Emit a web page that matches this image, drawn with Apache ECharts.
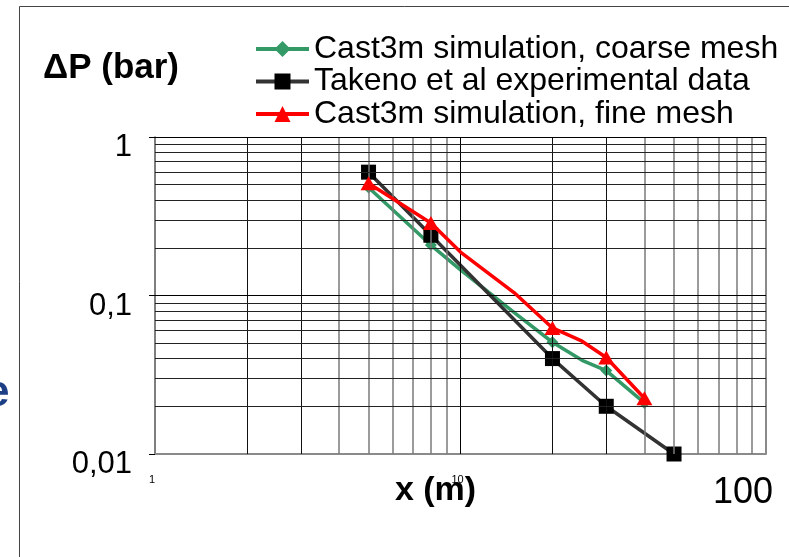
<!DOCTYPE html>
<html>
<head>
<meta charset="utf-8">
<script src="https://cdn.jsdelivr.net/npm/echarts@6/dist/echarts.min.js"></script>
<style>html,body{margin:0;padding:0;background:#fff}#c{width:789px;height:557px}</style>
</head>
<body>
<div id="c"></div>
<script>
const seriesNames = ['Cast3m simulation, coarse mesh', 'Takeno et al experimental data', 'Cast3m simulation, fine mesh'];
const coarseX = [5, 8, 10, 15, 20, 25, 30, 40];
const coarseY = [0.48, 0.208, 0.145, 0.078, 0.0507, 0.039, 0.0336, 0.021];
const takenoX = [5, 8, 20, 30, 50];
const takenoY = [0.6, 0.24, 0.04, 0.02, 0.01];
const fineX = [5, 8, 10, 15, 20, 25, 30, 40];
const fineY = [0.51, 0.287, 0.188, 0.104, 0.0624, 0.0515, 0.0406, 0.0225];
const simMarkedX = [5, 8, 20, 30, 40];
const xTickValues = [1, 10, 100];
const yTickValues = [0.01, 0.1, 1];
const yTickLabels = ['0,01', '0,1', '1'];
const xMinorGrid = [2, 3, 4, 5, 6, 7, 8, 9, 20, 30, 40, 50, 60, 70, 80, 90];
const xMajorGrid = [10];
const yMinorGrid = [0.02, 0.03, 0.04, 0.05, 0.06, 0.07, 0.08, 0.09, 0.2, 0.3, 0.4, 0.5, 0.6, 0.7, 0.8, 0.9];
const yMajorGrid = [0.1, 1];

const FONT = 'Liberation Sans, Arial, sans-serif';
const zip = (xs, ys) => xs.map((x, i) => [x, ys[i]]);

const gridLines = [];
xMinorGrid.forEach(v => {
  const dark = (v === 2 || v === 3 || v === 20 || v === 30);
  gridLines.push({xAxis: v, lineStyle: {color: dark ? '#111' : '#7a7a7a', width: dark ? 1 : 1.5, type: 'solid'}});
});
xMajorGrid.forEach(v => gridLines.push({xAxis: v, lineStyle: {color: '#000', width: 1, type: 'solid'}}));
gridLines.push({xAxis: 100, lineStyle: {color: '#8a8a8a', width: 2, type: 'solid'}});
yMinorGrid.forEach(v => gridLines.push({yAxis: v, lineStyle: {color: '#222', width: 1, type: 'solid'}}));
yMajorGrid.forEach(v => gridLines.push({yAxis: v, lineStyle: {color: '#000', width: 1.2, type: 'solid'}}));

const chart = echarts.init(document.getElementById('c'), null, {renderer: 'canvas'});
chart.setOption({
  animation: false,
  backgroundColor: '#fff',
  title: {
    text: 'ΔP (bar)', left: 43, top: 51, padding: 0,
    textStyle: {fontFamily: FONT, fontSize: 35, fontWeight: 'bold', color: '#000', lineHeight: 35}
  },
  legend: {
    orient: 'vertical', left: 254, top: 33, padding: 0,
    itemWidth: 53, itemHeight: 20, itemGap: 0.5,
    data: seriesNames,
    lineStyle: {width: 4},
    textStyle: {fontFamily: FONT, fontSize: 32, lineHeight: 32, color: '#000'}
  },
  grid: {left: 155, right: 23, top: 137, bottom: 103, containLabel: false, outerBoundsMode: 'none'},
  xAxis: {
    type: 'log', logBase: 10, min: 1, max: 100,
    name: 'x (m)', nameLocation: 'middle', nameGap: 20, nameMoveOverlap: false,
    nameTextStyle: {fontFamily: FONT, fontSize: 34, fontWeight: 'bold', color: '#000', lineHeight: 34, padding: [0, 50, 0, 0]},
    axisLine: {show: true, lineStyle: {color: '#8a8a8a', width: 2}},
    axisTick: {show: false},
    splitLine: {show: false},
    axisLabel: {
      margin: 20, hideOverlap: false,
      formatter: v => {
        const i = xTickValues.indexOf(Math.round(v));
        if (i < 0) return '';
        return i === 2 ? '{b|' + xTickValues[i] + '}' : '{s|' + xTickValues[i] + '}';
      },
      rich: {
        s: {fontFamily: FONT, fontSize: 11, lineHeight: 11, color: '#000', padding: [0, 6, 0, 0]},
        b: {fontFamily: FONT, fontSize: 36, lineHeight: 36, color: '#000', padding: [2, 46, 0, 0]}
      }
    }
  },
  yAxis: {
    type: 'log', logBase: 10, min: 0.01, max: 1,
    axisLine: {show: true, lineStyle: {color: '#555', width: 1.5}},
    axisTick: {show: true, length: 6, lineStyle: {color: '#000', width: 1}},
    splitLine: {show: false},
    axisLabel: {
      margin: 23, verticalAlign: 'top', lineHeight: 21,
      fontFamily: FONT, fontSize: 31, color: '#000',
      formatter: v => {
        let best = 0;
        yTickValues.forEach((t, i) => { if (Math.abs(Math.log10(t) - Math.log10(v)) < Math.abs(Math.log10(yTickValues[best]) - Math.log10(v))) best = i; });
        return yTickLabels[best];
      }
    }
  },
  graphic: [
    {type: 'line', shape: {x1: 19.5, y1: 6.5, x2: 19.5, y2: 557}, style: {stroke: '#444', lineWidth: 1}, silent: true},
    {type: 'line', shape: {x1: 19.5, y1: 6.5, x2: 789, y2: 6.5}, style: {stroke: '#444', lineWidth: 1}, silent: true},
    {type: 'text', left: -15, top: 372, style: {text: 'e', font: 'bold 44px ' + FONT, fill: '#1c3f86'}, silent: true}
  ],
  series: [
    {
      name: 'grid', type: 'line', data: [[1, 0.01]], symbol: 'none', lineStyle: {width: 0}, silent: true, z: 1,
      markLine: {silent: true, symbol: ['none', 'none'], label: {show: false}, animation: false, data: gridLines}
    },
    {
      name: seriesNames[0], type: 'line', z: 3, data: zip(coarseX, coarseY),
      symbol: 'diamond', symbolSize: v => simMarkedX.includes(v[0]) ? 12 : 0, showAllSymbol: true,
      color: '#339966', lineStyle: {color: '#339966', width: 3.5}, itemStyle: {color: '#339966'}
    },
    {
      name: seriesNames[1], type: 'line', z: 4, data: zip(takenoX, takenoY),
      symbol: 'rect', symbolSize: 15, showAllSymbol: true,
      color: '#000', lineStyle: {color: '#333', width: 3.5}, itemStyle: {color: '#000'}
    },
    {
      name: seriesNames[2], type: 'line', z: 5, data: zip(fineX, fineY),
      symbol: 'triangle', symbolSize: v => simMarkedX.includes(v[0]) ? [16, 14] : 0, showAllSymbol: true,
      color: '#ff0000', lineStyle: {color: '#ff0000', width: 3.5}, itemStyle: {color: '#ff0000'}
    }
  ]
});
</script>
</body>
</html>
